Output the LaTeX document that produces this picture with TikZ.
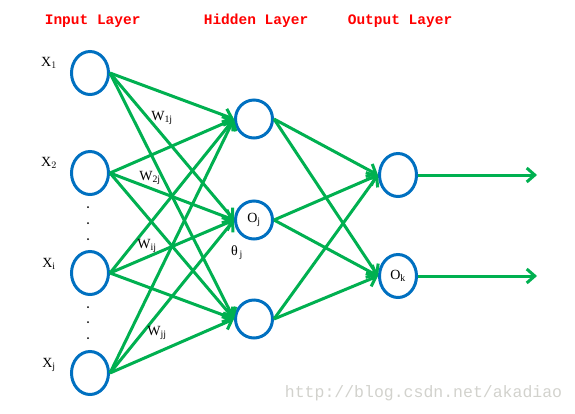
\documentclass[tikz,border=0pt]{standalone}
\usepackage{fontspec}
\setmainfont{Liberation Serif}
\newfontfamily\titlefont{Liberation Mono}
\usetikzlibrary{shapes.geometric,arrows.meta}
\definecolor{netgreen}{RGB}{0,176,80}
\definecolor{netblue}{RGB}{0,112,192}
\definecolor{markgray}{RGB}{210,210,205}

\begin{document}
\begin{tikzpicture}[x=1pt, y=-1pt, line width=3pt,
  neuron/.style = {draw=netblue, ellipse, minimum width=37pt, minimum height=43pt, inner sep=0pt, font=\fontsize{14}{14}\selectfont},
  layer/.style = {text=red, font=\titlefont\bfseries\fontsize{14.5}{15}\selectfont, anchor=west},
  lbl/.style = {font=\fontsize{14}{14}\selectfont},
  dot/.style = {fill, circle, inner sep=0pt, minimum size=2pt},
  wire/.style = {draw=netgreen, -{Straight Barb[length=8pt, width=14pt, line width=3pt]}}]
\useasboundingbox (0,0) rectangle (575,413);

% titles
\node[layer] (tin) at (40,21) {Input Layer};
\node[layer] (thid) at (199,21) {Hidden Layer};
\node[layer] (tout) at (343,21) {Output Layer};

% input layer
\node[neuron] (x1) at (90,73) {};
\node[neuron] (x2) at (90,173) {};
\node[neuron] (xi) at (90,273) {};
\node[neuron] (xj) at (90,373) {};
\node[lbl] (lx1) at (49,63) {X$_{1}$};
\node[lbl] (lx2) at (49,163) {X$_{2}$};
\node[lbl] (lxi) at (49,264) {X$_{\mathrm{i}}$};
\node[lbl] (lxj) at (49,365) {X$_{\mathrm{j}}$};
\node[dot] (d1) at (88,207) {};
\node[dot] (d2) at (88,223) {};
\node[dot] (d3) at (88,239) {};
\node[dot] (d4) at (88,307) {};
\node[dot] (d5) at (88,322) {};
\node[dot] (d6) at (88,338) {};

% hidden layer
\node[neuron, minimum height=38pt] (h1) at (254,119) {};
\node[neuron, minimum height=38pt] (h2) at (254,220) {O$_{\mathrm{j}}$};
\node[neuron, minimum height=38pt] (h3) at (254,319) {};

% output layer
\node[neuron] (o1) at (398,175) {};
\node[neuron] (o2) at (398,276) {O$_{\mathrm{k}}$};
\coordinate (y1) at (537,175);
\coordinate (y2) at (537,276);

% input to hidden
\draw[wire] (x1.east) -- (h1.west);
\draw[wire] (x1.east) -- (h2.west);
\draw[wire] (x1.east) -- (h3.west);
\draw[wire] (x2.east) -- (h1.west);
\draw[wire] (x2.east) -- (h2.west);
\draw[wire] (x2.east) -- (h3.west);
\draw[wire] (xi.east) -- (h1.west);
\draw[wire] (xi.east) -- (h2.west);
\draw[wire] (xi.east) -- (h3.west);
\draw[wire] (xj.east) -- (h1.west);
\draw[wire] (xj.east) -- (h2.west);
\draw[wire] (xj.east) -- (h3.west);

% hidden to output
\draw[wire] (h1.east) -- (o1.west);
\draw[wire] (h1.east) -- (o2.west);
\draw[wire] (h2.east) -- (o1.west);
\draw[wire] (h2.east) -- (o2.west);
\draw[wire] (h3.east) -- (o1.west);
\draw[wire] (h3.east) -- (o2.west);
\draw[wire] (o1.east) -- (y1);
\draw[wire] (o2.east) -- (y2);

% weights
\node[lbl] (w1) at (162,118) {W$_{\mathrm{1j}}$};
\node[lbl] (w2) at (150,178) {W$_{\mathrm{2j}}$};
\node[lbl] (wi) at (147,246) {W$_{\mathrm{ij}}$};
\node[lbl] (wj) at (157,333) {W$_{\mathrm{jj}}$};
\node[lbl] (th) at (237,253) {θ$_{\,\mathrm{j}}$};

\node[text=markgray, font=\titlefont\fontsize{16.5}{17}\selectfont, anchor=east] (mark) at (567,393) {http://blog.csdn.net/akadiao};
\end{tikzpicture}
\end{document}
